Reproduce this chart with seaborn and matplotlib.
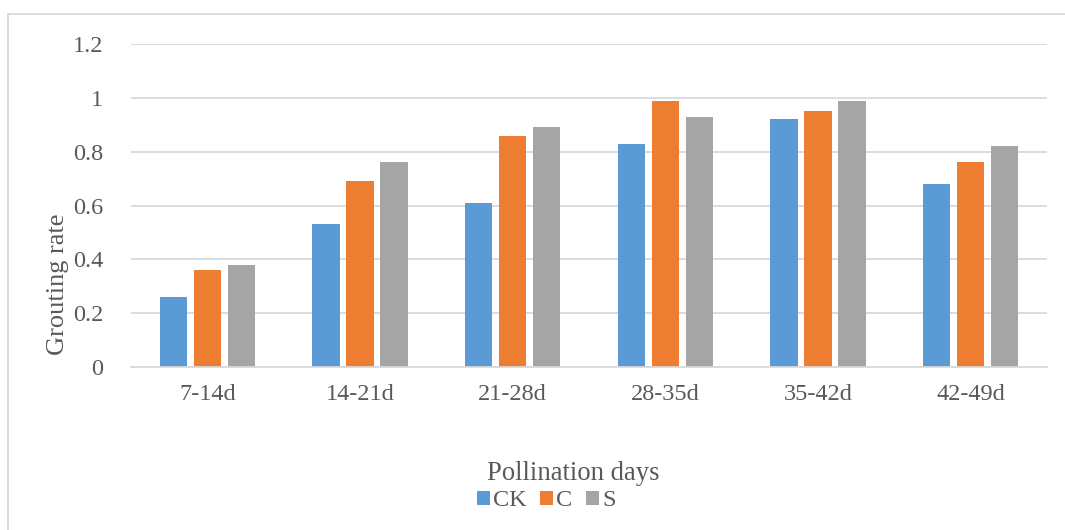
import matplotlib
matplotlib.use("Agg")
import matplotlib.pyplot as plt
import seaborn as sns
import pandas as pd
from matplotlib.patches import Rectangle

categories = ["7-14d", "14-21d", "21-28d", "28-35d", "35-42d", "42-49d"]
series_names = ["CK", "C", "S"]
ck_values = [0.26, 0.53, 0.61, 0.83, 0.92, 0.68]
c_values = [0.36, 0.69, 0.86, 0.99, 0.95, 0.76]
s_values = [0.38, 0.76, 0.89, 0.93, 0.99, 0.82]
y_ticks = [0, 0.2, 0.4, 0.6, 0.8, 1.0, 1.2]
y_tick_labels = ["0", "0.2", "0.4", "0.6", "0.8", "1", "1.2"]
colors = ["#5B9BD5", "#ED7D31", "#A5A5A5"]

rows = []
for name, vals in zip(series_names, [ck_values, c_values, s_values]):
    for cat, v in zip(categories, vals):
        rows.append({"Pollination days": cat, "series": name, "value": v})
df = pd.DataFrame(rows)

sns.set_theme(style="white")
plt.rcParams["font.family"] = ["Liberation Serif", "DejaVu Serif"]
text_color = "#595959"
grid_color = "#D9D9D9"

W, H = 1065, 530
fig = plt.figure(figsize=(10.65, 5.3), dpi=100)
ax = fig.add_axes([131/W, 1 - 367/H, (1047-131)/W, (367-44)/H])

sns.barplot(data=df, x="Pollination days", y="value", hue="series",
            order=categories, hue_order=series_names, palette=colors,
            width=0.668, gap=0.205, saturation=1, ax=ax, legend=True,
            edgecolor="none", linewidth=0)

ax.set_ylim(0, 1.2)
ax.set_xlim(-0.5, len(categories) - 0.5)
ax.set_yticks(y_ticks)
ax.set_yticklabels(y_tick_labels)
ax.yaxis.grid(True, color=grid_color, linewidth=1.3)
ax.set_axisbelow(True)
for s in ["top", "right", "left"]:
    ax.spines[s].set_visible(False)
ax.spines["bottom"].set_color(grid_color)
ax.spines["bottom"].set_linewidth(1.3)
ax.tick_params(axis="y", length=0, pad=20, labelsize=17.5, labelcolor=text_color)
ax.tick_params(axis="x", length=0, pad=12, labelsize=17.5, labelcolor=text_color)

ax.set_ylabel("Grouting rate", fontsize=19, color=text_color, va="center")
ax.yaxis.set_label_coords((58-131)/916, (367-284)/323)
ax.set_xlabel("Pollination days", fontsize=19.2, color=text_color, va="center")
ax.xaxis.set_label_coords((573-131)/916, (367-473)/323)

leg = ax.legend(loc="center", bbox_to_anchor=(546/W, (H-501)/H), bbox_transform=fig.transFigure,
                ncol=3, frameon=False, fontsize=17.5, handlelength=0.55, handleheight=0.55,
                handletextpad=0.12, columnspacing=0.55, borderaxespad=0, borderpad=0)
for t in leg.get_texts():
    t.set_color(text_color)

fig.patches.append(Rectangle((8/W, -0.1), 1.2, 1 - 14/H + 0.1, transform=fig.transFigure,
                             fill=False, edgecolor=grid_color, linewidth=1.3, zorder=0))

fig.savefig("out.png", dpi=100)
